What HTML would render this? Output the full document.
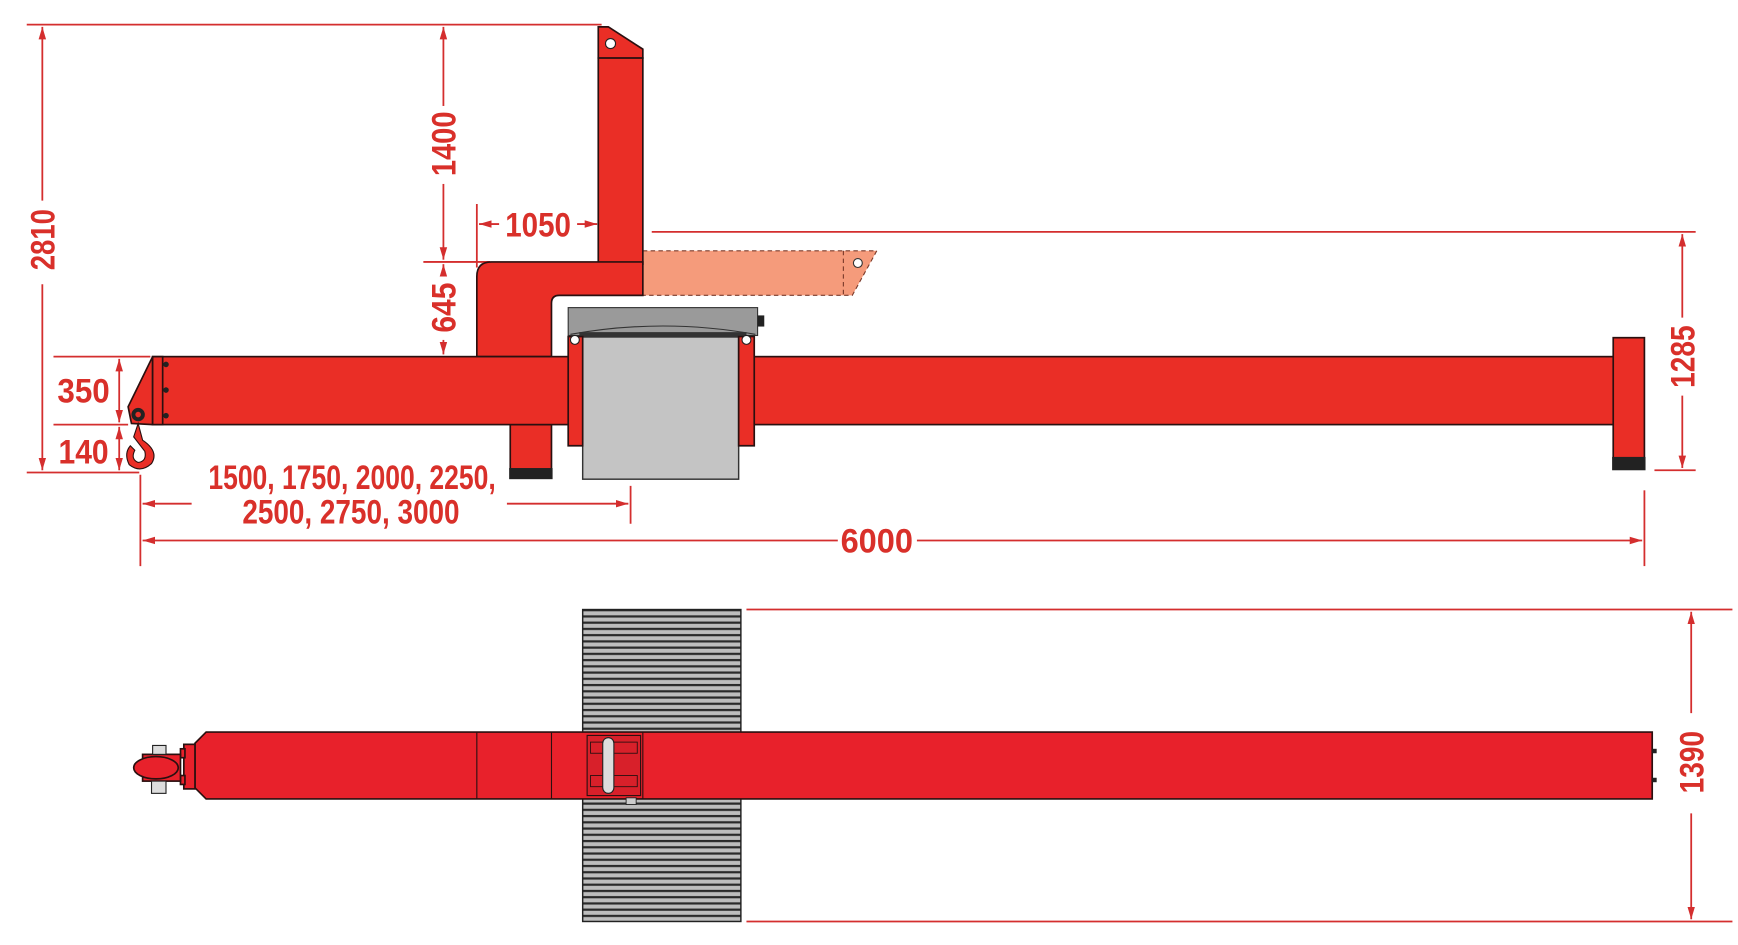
<!DOCTYPE html>
<html><head><meta charset="utf-8"><style>
html,body{margin:0;padding:0;background:#fff;width:1738px;height:945px;overflow:hidden}
svg{display:block}
.t{font-family:"Liberation Sans Narrow","Liberation Sans",sans-serif;font-weight:bold;fill:#d9302a;font-size:31px}
.d{stroke:#d42e2e;stroke-width:1.6;fill:none}
.r{fill:#ea2e26;stroke:#2a1010;stroke-width:1.5}
.b{fill:#e8212b;stroke:#2a1010;stroke-width:1.5}
</style></head><body>
<svg width="1738" height="945" viewBox="0 0 1560 848" xmlns="http://www.w3.org/2000/svg">
<defs>
<marker id="a" viewBox="0 0 10 10" refX="10" refY="5" markerWidth="7" markerHeight="7" orient="auto-start-reverse"><path d="M0,2 L10,5 L0,8 z" fill="#d42e2e"/></marker>
<pattern id="g" width="10" height="5.6" patternUnits="userSpaceOnUse"><rect width="10" height="5.6" fill="#bdbdbd"/><rect y="3.4" width="10" height="2" fill="#2a2a2a"/></pattern>
</defs>

<line class="d" x1="24" y1="22" x2="540" y2="22"/>
<line class="d" x1="38" y1="24" x2="38" y2="180" marker-start="url(#a)"/>
<line class="d" x1="38" y1="255" x2="38" y2="422" marker-end="url(#a)"/>
<text class="t" transform="translate(49,215) rotate(-90)" text-anchor="middle" textLength="55" lengthAdjust="spacingAndGlyphs">2810</text>
<line class="d" x1="398" y1="24" x2="398" y2="95" marker-start="url(#a)"/>
<line class="d" x1="398" y1="165" x2="398" y2="233" marker-end="url(#a)"/>
<text class="t" transform="translate(409,129) rotate(-90)" text-anchor="middle" textLength="58" lengthAdjust="spacingAndGlyphs">1400</text>
<line class="d" x1="380" y1="235" x2="440" y2="235"/>
<line class="d" x1="398" y1="237" x2="398" y2="248" marker-start="url(#a)"/>
<line class="d" x1="398" y1="305" x2="398" y2="318" marker-end="url(#a)"/>
<text class="t" transform="translate(409,276) rotate(-90)" text-anchor="middle" textLength="45" lengthAdjust="spacingAndGlyphs">645</text>
<line class="d" x1="428" y1="183" x2="428" y2="240"/>
<line class="d" x1="430" y1="201" x2="448" y2="201" marker-start="url(#a)"/>
<line class="d" x1="518" y1="201" x2="536" y2="201" marker-end="url(#a)"/>
<text class="t" x="483" y="212" text-anchor="middle" textLength="59" lengthAdjust="spacingAndGlyphs">1050</text>

<path d="M577,225 L787,225 L765,265 L577,265 Z" fill="#f59b7b" stroke="#7a3a2a" stroke-width="1" stroke-dasharray="4,3"/>
<line x1="757" y1="225" x2="757" y2="265" stroke="#7a3a2a" stroke-dasharray="4,3"/>
<circle cx="770" cy="236" r="4" fill="#fff" stroke="#333"/>
<line class="d" x1="585" y1="208" x2="1522" y2="208"/>

<path class="r" d="M537,52 L537,24 L546,24 L577,44 L577,52 Z"/>
<circle cx="548" cy="39" r="4.5" fill="#fff" stroke="#222"/>
<rect class="r" x="537" y="52" width="40" height="185"/>
<path class="r" d="M428,320 L428,248 Q428,235 441,235 L577,235 L577,265 L502,265 Q495,265 495,272 L495,320 Z"/>
<rect class="r" x="458" y="381" width="37" height="40"/>
<rect x="457" y="420" width="39" height="10" fill="#222"/>

<rect class="r" x="137" y="320" width="1312" height="61"/>
<rect class="r" x="1448" y="303" width="28" height="108"/>
<rect x="1447" y="410" width="30" height="12" fill="#222"/>
<path class="r" d="M137,320 L115,365 L118,380 L137,381 Z"/>
<rect class="r" x="137" y="320" width="9" height="61"/>
<circle cx="149" cy="327" r="2.5" fill="#222"/><circle cx="149" cy="350" r="2.5" fill="#222"/><circle cx="149" cy="373" r="2.5" fill="#222"/>
<circle cx="124" cy="372" r="6" fill="#222"/><circle cx="124" cy="372" r="2.5" fill="#ea2e26"/>
<path d="M124,380 L128,395 Q143,405 136,416 Q126,425 116,417 Q111,407 117,400 L121,404 Q117,412 124,415 Q132,414 130,405 L120,392 Z" fill="#ea2e26" stroke="#2a1010" stroke-width="1"/>

<rect x="510" y="276" width="170" height="25" fill="#9a9a9a" stroke="#333" stroke-width="1"/>
<rect x="680" y="283" width="6" height="10" fill="#222"/>
<path d="M512,300 Q595,285 678,300" fill="none" stroke="#333"/>
<rect x="523" y="300" width="140" height="130" fill="#c4c4c4" stroke="#333" stroke-width="1.3"/>
<rect x="520" y="298" width="150" height="5" fill="#333"/>
<path class="r" d="M510,302 L523,302 L523,400 L510,400 Z"/>
<path class="r" d="M663,302 L677,302 L677,400 L663,400 Z"/>
<circle cx="516" cy="305" r="4" fill="#fff" stroke="#222"/>
<circle cx="670" cy="305" r="4" fill="#fff" stroke="#222"/>

<line class="d" x1="48" y1="320" x2="135" y2="320"/>
<line class="d" x1="48" y1="381" x2="115" y2="381"/>
<line class="d" x1="24" y1="424" x2="125" y2="424"/>
<line class="d" x1="107" y1="322" x2="107" y2="379" marker-start="url(#a)" marker-end="url(#a)"/>
<line class="d" x1="107" y1="383" x2="107" y2="422" marker-start="url(#a)" marker-end="url(#a)"/>
<text class="t" x="75" y="361" text-anchor="middle" textLength="47" lengthAdjust="spacingAndGlyphs">350</text>
<text class="t" x="75" y="416" text-anchor="middle" textLength="45" lengthAdjust="spacingAndGlyphs">140</text>

<line class="d" x1="126" y1="426" x2="126" y2="508"/>
<line class="d" x1="566" y1="436" x2="566" y2="470"/>
<line class="d" x1="128" y1="452" x2="172" y2="452" marker-start="url(#a)"/>
<line class="d" x1="455" y1="452" x2="564" y2="452" marker-end="url(#a)"/>
<text class="t" x="316" y="439" text-anchor="middle" font-size="29" textLength="258" lengthAdjust="spacingAndGlyphs">1500, 1750, 2000, 2250,</text>
<text class="t" x="315" y="470" text-anchor="middle" font-size="29" textLength="195" lengthAdjust="spacingAndGlyphs">2500, 2750, 3000</text>
<line class="d" x1="1476" y1="440" x2="1476" y2="508"/>
<line class="d" x1="128" y1="485" x2="752" y2="485" marker-start="url(#a)"/>
<line class="d" x1="823" y1="485" x2="1474" y2="485" marker-end="url(#a)"/>
<text class="t" x="787" y="496" text-anchor="middle" textLength="65" lengthAdjust="spacingAndGlyphs">6000</text>

<line class="d" x1="1485" y1="422" x2="1522" y2="422"/>
<line class="d" x1="1510" y1="210" x2="1510" y2="285" marker-start="url(#a)"/>
<line class="d" x1="1510" y1="355" x2="1510" y2="420" marker-end="url(#a)"/>
<text class="t" transform="translate(1521,320) rotate(-90)" text-anchor="middle" textLength="56" lengthAdjust="spacingAndGlyphs">1285</text>

<rect x="523" y="547" width="142" height="280" fill="url(#g)" stroke="#222" stroke-width="1.3"/>
<path class="b" d="M185,657 L1483,657 L1483,717 L185,717 L175,707 L175,667 Z"/>
<line x1="428" y1="657" x2="428" y2="717" stroke="#2a1010"/>
<line x1="495" y1="657" x2="495" y2="717" stroke="#2a1010"/>
<line x1="577" y1="657" x2="577" y2="717" stroke="#2a1010"/>
<rect x="1483" y="672" width="4" height="4" fill="#222"/><rect x="1483" y="698" width="4" height="4" fill="#222"/>
<rect x="527" y="660" width="48" height="54" fill="#d8202a" stroke="#2a1010"/>
<rect x="530" y="666" width="42" height="10" fill="none" stroke="#2a1010" stroke-width="0.8"/>
<rect x="530" y="696" width="42" height="10" fill="none" stroke="#2a1010" stroke-width="0.8"/>
<rect x="541" y="662" width="10" height="50" rx="5" fill="#ddd" stroke="#222"/>
<rect x="562" y="716" width="9" height="6" fill="#ccc" stroke="#222" stroke-width="0.8"/>
<rect class="b" x="165" y="668" width="10" height="40"/>
<rect class="b" x="162" y="672" width="4" height="8"/><rect class="b" x="162" y="696" width="4" height="8"/>
<rect class="b" x="128" y="677" width="34" height="24"/>
<ellipse class="b" cx="140" cy="689" rx="20" ry="10"/>
<rect x="137" y="669" width="12" height="8" fill="#ddd" stroke="#222"/>
<rect x="136" y="701" width="13" height="11" fill="#ddd" stroke="#222"/>

<line class="d" x1="670" y1="547" x2="1555" y2="547"/>
<line class="d" x1="670" y1="827" x2="1555" y2="827"/>
<line class="d" x1="1518" y1="549" x2="1518" y2="640" marker-start="url(#a)"/>
<line class="d" x1="1518" y1="730" x2="1518" y2="825" marker-end="url(#a)"/>
<text class="t" transform="translate(1529,684) rotate(-90)" text-anchor="middle" textLength="56" lengthAdjust="spacingAndGlyphs">1390</text>
</svg>
</body></html>
